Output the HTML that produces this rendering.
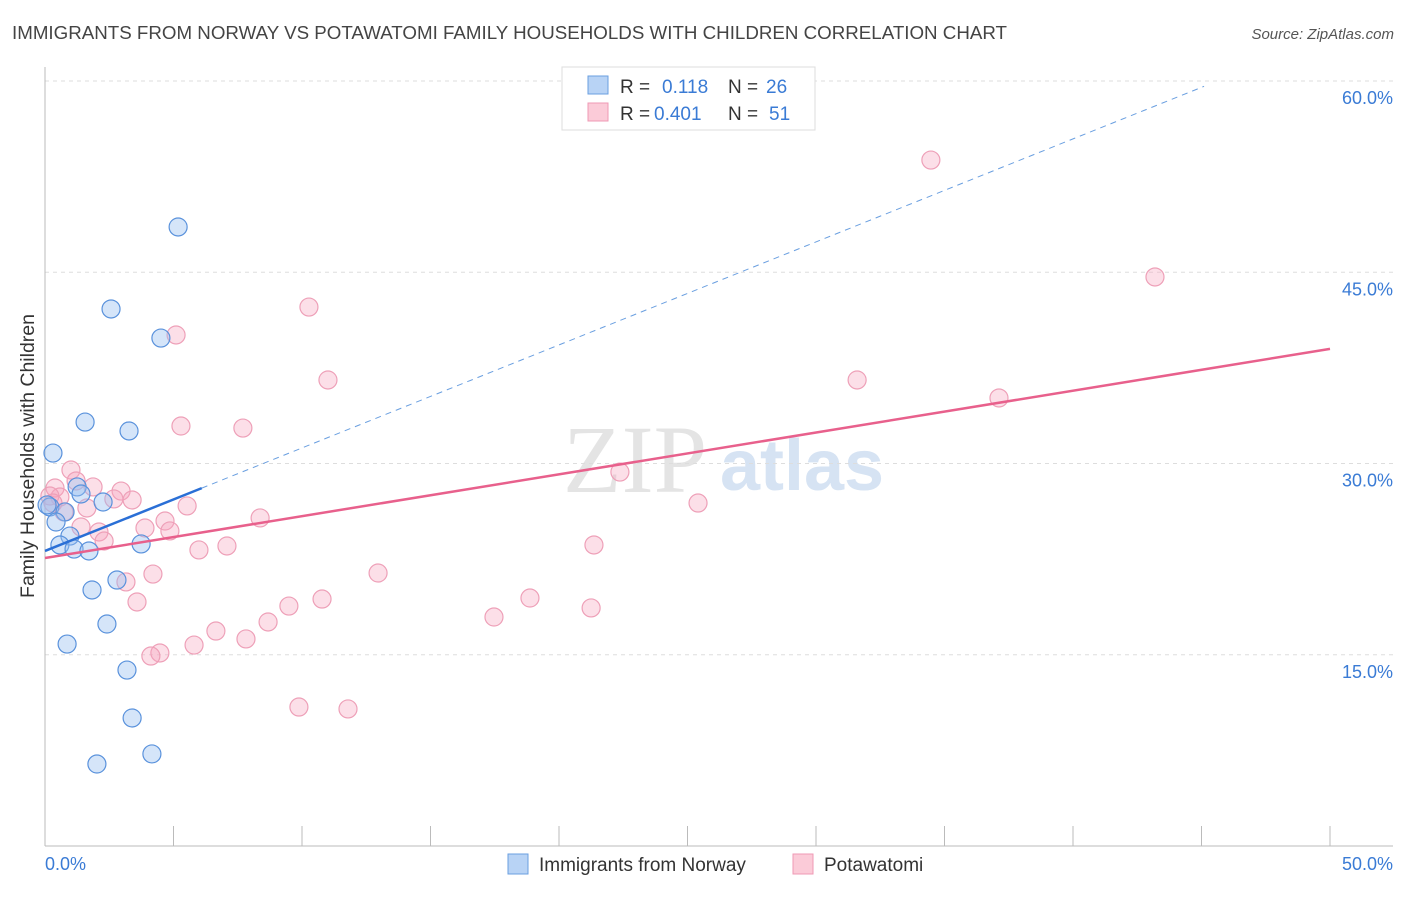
<!DOCTYPE html>
<html><head><meta charset="utf-8"><style>
body{margin:0;background:#fff;font-family:"Liberation Sans",sans-serif}
</style></head><body>
<svg id="c" width="1406" height="892" xmlns="http://www.w3.org/2000/svg">
<text x="12" y="39" font-size="18" fill="#444" textLength="995" lengthAdjust="spacingAndGlyphs">IMMIGRANTS FROM NORWAY VS POTAWATOMI FAMILY HOUSEHOLDS WITH CHILDREN CORRELATION CHART</text>
<text x="1394" y="39" font-size="15" fill="#555" text-anchor="end" font-style="italic">Source: ZipAtlas.com</text>
<text x="635" y="492" font-size="96" fill="#e4e4e4" font-family="Liberation Serif,serif" text-anchor="middle">ZIP</text>
<text x="802" y="490" font-size="72" fill="#d6e3f3" text-anchor="middle" font-weight="bold">atlas</text>
<g id="grid"></g><g id="axes"></g><g id="marks"></g>
<text transform="translate(34,456) rotate(-90)" font-size="19.5" fill="#333" text-anchor="middle">Family Households with Children</text>
<g>
<rect x="562" y="67" width="253" height="63" fill="#fff" stroke="#ddd"/>
<rect x="588" y="76" width="20" height="18" fill="#b8d3f5" stroke="#6a9fe0"/>
<rect x="588" y="103" width="20" height="18" fill="#fbcbd8" stroke="#ef99b4"/>
<text x="620" y="93" font-size="19" fill="#333">R = </text><text x="662" y="93" font-size="19" fill="#3a7bd5">0.118</text>
<text x="728" y="93" font-size="19" fill="#333">N = </text><text x="766" y="93" font-size="19" fill="#3a7bd5">26</text>
<text x="620" y="120" font-size="19" fill="#333">R = </text><text x="654" y="120" font-size="19" fill="#3a7bd5">0.401</text>
<text x="728" y="120" font-size="19" fill="#333">N = </text><text x="769" y="120" font-size="19" fill="#3a7bd5">51</text>
</g>
<g>
<rect x="508" y="854" width="20" height="20" fill="#b8d3f5" stroke="#6a9fe0"/>
<text x="539" y="871" font-size="19" fill="#333">Immigrants from Norway</text>
<rect x="793" y="854" width="20" height="20" fill="#fbcbd8" stroke="#ef99b4"/>
<text x="824" y="871" font-size="19" fill="#333">Potawatomi</text>
</g>
</svg>
<script>
const yTicks=[15,30,45,60];
const yTickLabels=["15.0%","30.0%","45.0%","60.0%"];
const xTickLabels=["0.0%","50.0%"];
const blueX=[5.18,2.57,4.51,1.56,3.27,0.31,1.25,1.40,2.26,0.19,0.78,0.43,0.97,0.58,1.13,1.71,3.74,2.80,1.83,2.41,0.86,3.19,3.39,4.16,2.02,0.08];
const blueY=[48.55,42.12,39.84,33.25,32.55,30.82,28.16,27.61,26.98,26.59,26.20,25.41,24.31,23.61,23.29,23.14,23.69,20.86,20.08,17.41,15.84,13.80,10.04,7.22,6.43,26.75];
const pinkX=[34.47,43.19,10.27,5.10,11.01,31.60,37.12,5.29,7.70,1.01,1.21,0.39,1.87,2.96,0.58,2.68,3.39,1.63,0.74,5.53,4.67,1.40,2.10,8.37,3.89,4.86,2.30,22.37,25.41,7.08,5.99,21.36,4.20,12.96,3.15,3.58,9.49,10.78,18.87,21.25,17.47,8.68,6.65,7.82,5.80,4.47,4.12,9.88,11.79,0.19,0.31];
const pinkY=[53.80,44.63,42.27,40.08,36.55,36.55,35.14,32.94,32.78,29.49,28.63,28.08,28.16,27.84,27.37,27.22,27.14,26.51,26.20,26.67,25.49,25.02,24.63,25.73,24.94,24.71,23.92,29.33,26.90,23.53,23.22,23.61,21.33,21.41,20.71,19.14,18.82,19.37,19.45,18.67,17.96,17.57,16.86,16.24,15.76,15.14,14.90,10.90,10.75,27.45,26.90];
const blueFit=[23.14,0.808];
const pinkFit=[22.59,0.328];
const X=v=>45+v*25.7, Y=v=>846-v*12.75;
const NS="http://www.w3.org/2000/svg";
function mk(tag,parent,attrs){const e=document.createElementNS(NS,tag);for(const k in attrs)e.setAttribute(k,attrs[k]);document.getElementById(parent).appendChild(e);return e;}
yTicks.forEach((t,i)=>{
 const g=mk('line','grid',{x1:45,x2:1393,y1:Y(t),y2:Y(t),stroke:'#ddd','stroke-dasharray':'4,4'});
 
 
 const l=mk('text','grid',{x:1393,y:Y(t)+23,'font-size':18,fill:'#3a7bd5','text-anchor':'end'});
 l.textContent=yTickLabels[i];
 
 
});
const xa=mk('line','axes',{x1:45,x2:1393,y1:846,y2:846,stroke:'#bbb'});


const ya=mk('line','axes',{x1:45,x2:45,y1:67,y2:846,stroke:'#bbb'});


for(let i=0;i<=10;i++){const t=mk('line','axes',{x1:X(i*5),x2:X(i*5),y1:826,y2:846,stroke:'#bbb'});
 
 }
[[0,'start',45],[50,'end',1393]].forEach((d,i)=>{const l=mk('text','axes',{x:d[2],y:870,'font-size':18,fill:'#3a7bd5','text-anchor':d[1]});l.textContent=xTickLabels[i];
 
 });
pinkX.forEach((x,i)=>{const c=mk('circle','marks',{cx:X(x),cy:Y(pinkY[i]),r:9,fill:'rgba(246,164,190,0.35)',stroke:'#eea0b8','stroke-width':1.2});
 
 });
blueX.forEach((x,i)=>{const c=mk('circle','marks',{cx:X(x),cy:Y(blueY[i]),r:9,fill:'rgba(150,190,240,0.4)',stroke:'#5a92dc','stroke-width':1.2});
 
 });
const bEnd=6.1, bDashEnd=45.1;
const bl=mk('line','marks',{x1:X(0),y1:Y(blueFit[0]),x2:X(bEnd),y2:Y(blueFit[0]+blueFit[1]*bEnd),stroke:'#2a6fd6','stroke-width':2.5});


const bd=mk('line','marks',{x1:X(bEnd),y1:Y(blueFit[0]+blueFit[1]*bEnd),x2:X(bDashEnd),y2:Y(blueFit[0]+blueFit[1]*bDashEnd),stroke:'#6a9fe0','stroke-width':1,'stroke-dasharray':'6,5'});


const pl=mk('line','marks',{x1:X(0),y1:Y(pinkFit[0]),x2:X(50),y2:Y(pinkFit[0]+pinkFit[1]*50),stroke:'#e8608c','stroke-width':2.5});


</script>
</body></html>
